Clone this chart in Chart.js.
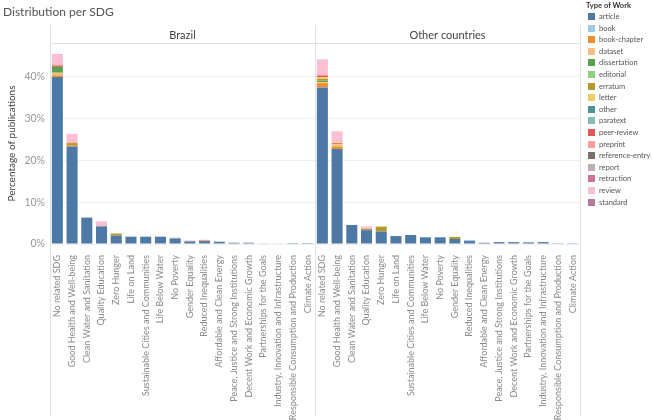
<!DOCTYPE html>
<html>
<head>
<meta charset="utf-8">
<script src="https://cdn.jsdelivr.net/npm/chart.js@4.4.0/dist/chart.umd.min.js"></script>
<style>
  body { margin: 0; background: #fff; font-family: Lato, sans-serif; }
  #wrap { position: relative; width: 652px; height: 420px; overflow: hidden; }
  #chart { position: absolute; left: 0; top: 0; }
  #title { position: absolute; left: 3px; top: 4px; font-size: 12px; color: #555; }
  #legend { position: absolute; left: 586px; top: 0; font-size: 7.5px; color: #555; }
  #legend .head { color: #333; font-weight: bold; height: 11px; line-height: 11px; }
  #legend .item { height: 11.6px; line-height: 11.6px; white-space: nowrap; }
  #legend .sw { display: inline-block; width: 7px; height: 7px; margin: 0 4px 0 2px; vertical-align: -1px; }
</style>
</head>
<body>
<div id="wrap">
  <canvas id="chart" width="652" height="420"></canvas>
  <div id="title">Distribution per SDG</div>
  <div id="legend"></div>
</div>
<script>
const countries = ['Brazil', 'Other countries'];
const sdgs = [
    'No related SDG', 'Good Health and Well-being', 'Clean Water and Sanitation', 'Quality Education',
    'Zero Hunger', 'Life on Land', 'Sustainable Cities and Communities', 'Life Below Water',
    'No Poverty', 'Gender Equality', 'Reduced Inequalities', 'Affordable and Clean Energy',
    'Peace, Justice and Strong Institutions', 'Decent Work and Economic Growth', 'Partnerships for the Goals',
    'Industry, Innovation and Infrastructure', 'Responsible Consumption and Production', 'Climate Action'
];
const workTypes = ['article', 'book', 'book-chapter', 'dataset', 'dissertation', 'editorial', 'erratum', 'letter',
    'other', 'paratext', 'peer-review', 'preprint', 'reference-entry', 'report', 'retraction', 'review', 'standard'];
const typeColors = ['#4E79A7', '#A0CBE8', '#F28E2B', '#FFBE7D', '#59A14F', '#8CD17D', '#B6992D', '#F1CE63',
    '#499894', '#86BCB6', '#E15759', '#FF9D9A', '#79706E', '#BAB0AC', '#D37295', '#FABFD2', '#B07AA1'];

// % of publications, first 18 values Brazil, next 18 Other countries (same SDG order)
const article = [39.9, 23.3, 6.3, 4.2, 2.0, 1.75, 1.75, 1.75, 1.3, 0.6, 0.7, 0.55, 0.3, 0.3, 0.15, 0.15, 0.03, 0.02,
    37.4, 22.7, 4.55, 3.3, 2.95, 1.9, 2.15, 1.6, 1.6, 1.2, 0.7, 0.3, 0.45, 0.45, 0.4, 0.45, 0.05, 0.05];
const book = [0, 0, 0, 0, 0, 0, 0, 0, 0, 0, 0, 0, 0, 0, 0, 0, 0, 0,
    0, 0, 0, 0, 0, 0, 0, 0, 0, 0, 0.25, 0, 0, 0, 0, 0, 0, 0];
const bookChapter = [0.4, 0.3, 0, 0, 0, 0, 0, 0, 0, 0, 0, 0, 0, 0, 0, 0, 0, 0,
    1.0, 0.6, 0, 0, 0, 0, 0, 0, 0, 0, 0, 0, 0, 0, 0, 0, 0, 0];
const dataset = [0.6, 0, 0, 0, 0, 0, 0, 0, 0, 0, 0, 0, 0, 0, 0, 0, 0, 0,
    0.3, 0.5, 0, 0, 0, 0, 0, 0, 0, 0, 0, 0, 0, 0, 0, 0, 0, 0];
const dissertation = [1.4, 0, 0, 0, 0, 0, 0, 0, 0, 0, 0, 0, 0, 0, 0, 0, 0, 0,
    0.3, 0, 0, 0, 0, 0, 0, 0, 0, 0, 0, 0, 0, 0, 0, 0, 0, 0];
const erratum = [0, 0.5, 0, 0, 0.5, 0, 0, 0, 0, 0, 0, 0, 0, 0, 0, 0, 0, 0,
    0.4, 0.3, 0, 0.3, 1.2, 0, 0, 0, 0, 0.5, 0, 0, 0, 0, 0, 0, 0, 0];
const letter = [0, 0, 0, 0, 0, 0, 0, 0, 0, 0, 0, 0, 0, 0, 0, 0, 0, 0,
    0.4, 0, 0, 0, 0, 0, 0, 0, 0, 0, 0, 0, 0, 0, 0, 0, 0, 0];
const peerReview = [0.3, 0, 0, 0, 0, 0, 0, 0, 0, 0, 0, 0, 0, 0, 0, 0, 0, 0,
    0.4, 0, 0, 0, 0, 0, 0, 0, 0, 0, 0, 0, 0, 0, 0, 0, 0, 0];
const preprint = [0.3, 0.2, 0, 0.2, 0, 0, 0, 0, 0, 0, 0.3, 0, 0, 0, 0, 0, 0, 0,
    0.3, 0, 0, 0, 0, 0, 0, 0, 0, 0, 0, 0, 0, 0, 0, 0, 0, 0];
const report = [0, 0, 0, 0, 0, 0, 0, 0, 0.2, 0.2, 0, 0, 0, 0, 0, 0, 0, 0,
    0, 0, 0, 0, 0, 0, 0, 0, 0, 0, 0, 0, 0, 0, 0, 0, 0, 0];
const review = [2.5, 2.0, 0, 1.0, 0, 0, 0, 0, 0, 0, 0, 0, 0, 0, 0, 0, 0, 0,
    3.6, 2.8, 0, 0.6, 0, 0, 0, 0, 0, 0, 0, 0, 0, 0, 0, 0, 0, 0];
// types with no visible marks
const editorial = [], other = [], paratext = [], referenceEntry = [], retraction = [], standard = [];

const typeValues = [article, book, bookChapter, dataset, dissertation, editorial, erratum, letter,
    other, paratext, peerReview, preprint, referenceEntry, report, retraction, review, standard];

const labels = countries.flatMap(() => sdgs);

const datasets = workTypes.map((t, i) => ({
    label: t,
    data: typeValues[i],
    backgroundColor: typeColors[i],
    barPercentage: 0.75,
    categoryPercentage: 1.0
}));

// panel headers + divider lines like the original small multiples
const panelHeaders = {
    id: 'panelHeaders',
    beforeDatasetsDraw(chart) {
        const { ctx, chartArea } = chart;
        const mid = (chartArea.left + chartArea.right) / 2;
        ctx.save();
        ctx.strokeStyle = '#e2e2e2';
        ctx.lineWidth = 1;
        ctx.beginPath();
        [chartArea.left, mid, chartArea.right].forEach(x => {
            ctx.moveTo(Math.round(x) + 0.5, 25);
            ctx.lineTo(Math.round(x) + 0.5, 416);
        });
        ctx.moveTo(chartArea.left, chartArea.top + 0.5);
        ctx.lineTo(chartArea.right, chartArea.top + 0.5);
        ctx.stroke();
        ctx.fillStyle = '#444';
        ctx.font = '11px Lato';
        ctx.textAlign = 'center';
        ctx.textBaseline = 'middle';
        ctx.fillText(countries[0], (chartArea.left + mid) / 2, 35);
        ctx.fillText(countries[1], (mid + chartArea.right) / 2, 35);
        ctx.restore();
    }
};

new Chart(document.getElementById('chart'), {
    type: 'bar',
    data: { labels: labels, datasets: datasets },
    options: {
        responsive: false,
        animation: false,
        devicePixelRatio: 1,
        layout: { padding: { top: 43, right: 72, left: 0, bottom: 0 } },
        plugins: {
            legend: { display: false },
            tooltip: { enabled: false }
        },
        scales: {
            x: {
                stacked: true,
                grid: { display: false },
                border: { display: false },
                ticks: {
                    autoSkip: false,
                    minRotation: 90,
                    maxRotation: 90,
                    padding: 3,
                    color: '#8a8a8a',
                    font: { family: 'Lato', size: 9 }
                },
                afterFit(scale) { scale.height = 176; }
            },
            y: {
                stacked: true,
                min: 0,
                max: 48,
                grid: { color: '#f0f0f0', drawTicks: false },
                border: { display: false },
                ticks: {
                    stepSize: 10,
                    includeBounds: false,
                    padding: 5,
                    color: '#999',
                    font: { family: 'Lato', size: 10.5 },
                    callback: v => v + '%'
                },
                title: {
                    display: true,
                    text: 'Percentage of publications',
                    color: '#444',
                    font: { family: 'Lato', size: 10 },
                    padding: { top: 6, bottom: 2 }
                },
                afterFit(scale) { scale.width = 50; }
            }
        }
    },
    plugins: [panelHeaders]
});

// legend
const legend = document.getElementById('legend');
let html = '<div class="head">Type of Work</div>';
workTypes.forEach((t, i) => {
    html += '<div class="item"><span class="sw" style="background:' + typeColors[i] + '"></span>' + t + '</div>';
});
legend.innerHTML = html;
</script>
</body>
</html>
